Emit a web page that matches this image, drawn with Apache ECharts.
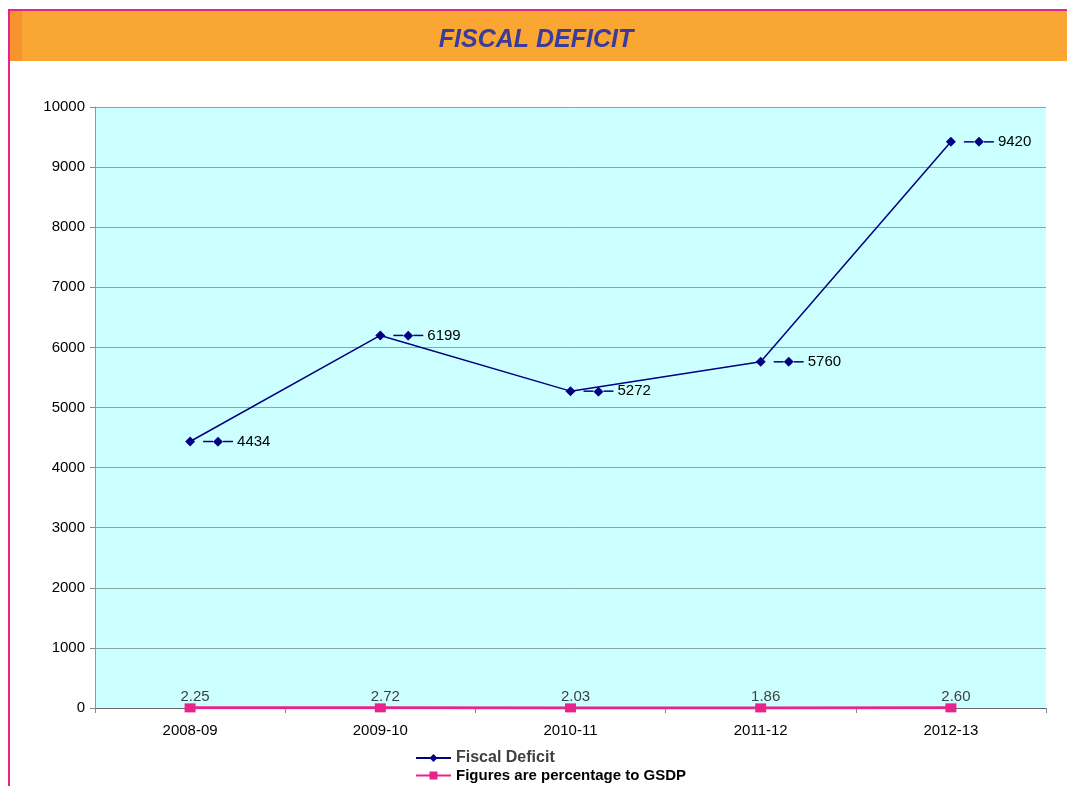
<!DOCTYPE html>
<html>
<head>
<meta charset="utf-8">
<title>Fiscal Deficit</title>
<script src="https://cdn.jsdelivr.net/npm/echarts@6/dist/echarts.min.js"></script>
<style>
  html, body { margin: 0; padding: 0; background: #fff; }
  #chart { width: 1067px; height: 786px; }
</style>
</head>
<body>
<div id="chart"></div>
<script>
const years = ['2008-09', '2009-10', '2010-11', '2011-12', '2012-13']
const fiscalDeficit = [4434, 6199, 5272, 5760, 9420]
const pctOfGsdp = [2.25, 2.72, 2.03, 1.86, 2.60]
const pctLabels = ['2.25', '2.72', '2.03', '1.86', '2.60']

const NAVY = '#000080'
const PINK = '#e8238a'
const FONT = '"Liberation Sans", Arial, sans-serif'

const chart = echarts.init(document.getElementById('chart'), null, { renderer: 'canvas' })

chart.setOption({
  backgroundColor: '#fff',
  textStyle: { fontFamily: FONT },
  animation: false,
  graphic: [
    // slide frame + header band
    { type: 'rect', shape: { x: 10, y: 11, width: 1057, height: 50 }, style: { fill: '#f9a732' } },
    { type: 'rect', shape: { x: 10, y: 11, width: 12, height: 50 }, style: { fill: '#f7942e' } },
    { type: 'line', shape: { x1: 8, y1: 10, x2: 1067, y2: 10 }, style: { stroke: PINK, lineWidth: 2 } },
    { type: 'line', shape: { x1: 9, y1: 10, x2: 9, y2: 786 }, style: { stroke: PINK, lineWidth: 2 } },
    {
      type: 'text', x: 536, y: 40,
      style: {
        text: 'FISCAL DEFICIT', fill: '#3b3b9b', align: 'center', verticalAlign: 'middle',
        font: 'italic bold 25px ' + FONT
      }
    }
  ],
  grid: { left: 95, right: 21, top: 107, bottom: 78, show: true, backgroundColor: '#ccffff', borderWidth: 0 },
  legend: {
    orient: 'vertical',
    left: 415,
    top: 750,
    height: 36,
    itemGap: 2,
    itemWidth: 35,
    itemHeight: 10,
    padding: 0,
    data: [
      { name: 'Fiscal Deficit', textStyle: { color: '#404040', fontSize: 16, fontWeight: 'bold' } },
      { name: 'Figures are percentage to GSDP', textStyle: { color: '#000', fontSize: 15, fontWeight: 'bold' } }
    ]
  },
  xAxis: {
    type: 'category',
    data: years,
    boundaryGap: true,
    axisLine: { lineStyle: { color: '#666', width: 1 } },
    axisTick: { show: true, length: 5, lineStyle: { color: '#888' } },
    axisLabel: { color: '#000', fontSize: 15, margin: 15 }
  },
  yAxis: {
    type: 'value',
    min: 0,
    max: 10000,
    interval: 1000,
    axisLine: { show: true, lineStyle: { color: '#8a9a9a' } },
    axisTick: { show: true, length: 5, lineStyle: { color: '#888' } },
    axisLabel: { color: '#000', fontSize: 15, margin: 10, formatter: v => String(v) },
    splitLine: { lineStyle: { color: '#8fa3a3', width: 1 } }
  },
  series: [
    {
      name: 'Fiscal Deficit',
      type: 'line',
      data: fiscalDeficit,
      symbol: 'diamond',
      symbolSize: 10,
      itemStyle: { color: NAVY },
      lineStyle: { color: NAVY, width: 1.5 },
      label: {
        show: true,
        position: 'right',
        distance: 8,
        formatter: '{l|}{d|◆}{l|}{v|{c}}',
        rich: {
          l: { width: 10, height: 1.5, backgroundColor: NAVY },
          d: { color: NAVY, fontSize: 13, fontFamily: '"DejaVu Sans", sans-serif' },
          v: { color: '#000', fontSize: 15, padding: [0, 0, 0, 4], fontFamily: FONT }
        }
      },
      z: 4
    },
    {
      name: 'Figures are percentage to GSDP',
      type: 'line',
      data: pctOfGsdp,
      symbol: 'rect',
      symbolSize: [11, 9],
      itemStyle: { color: PINK },
      lineStyle: { color: PINK, width: 3 },
      label: {
        show: true,
        position: 'top',
        distance: 0,
        color: '#404040',
        fontSize: 15,
        offset: [5, 1],
        formatter: p => pctLabels[p.dataIndex]
      },
      z: 5
    }
  ]
})
</script>
</body>
</html>
